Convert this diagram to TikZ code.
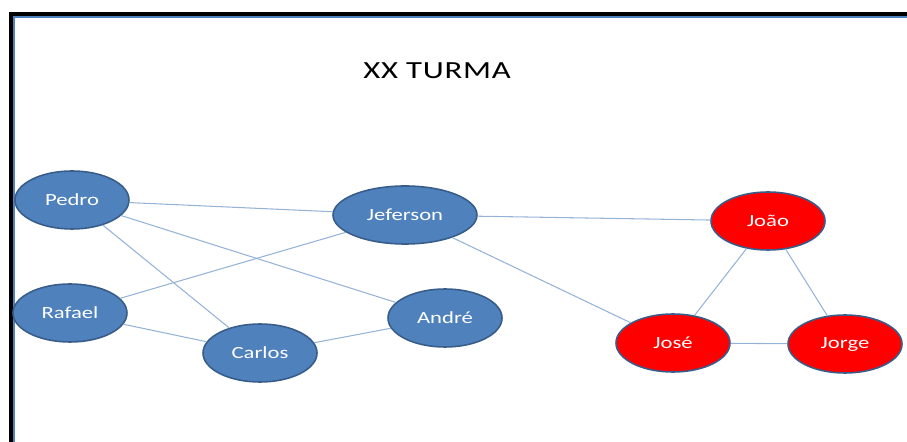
\documentclass[tikz,border=0pt]{standalone}
\usepackage{fontspec}
\setmainfont[FakeStretch=1.33]{Carlito}
\usetikzlibrary{shapes.geometric}
\definecolor{noazul}{HTML}{4F81BD}
\definecolor{bordaazul}{HTML}{385D8A}
\definecolor{linhaazul}{HTML}{95B3D7}
\begin{document}
\begin{tikzpicture}[
    aluno/.style={ellipse, draw=bordaazul, line width=0.9pt, fill=noazul,
        text=white, font=\fontsize{9.7}{11}\selectfont,
        minimum width=2.28cm, minimum height=1.16cm, inner sep=0pt},
    alunovermelho/.style={aluno, fill=red},
    ligacao/.style={linhaazul, line width=0.6pt}
]
    % Moldura
    \useasboundingbox (0,0) rectangle (18.14,8.84);
    \draw[line width=1.8pt] (0.22,0) -- (0.22,8.56) -- (18.2,8.56);
    \draw[noazul, line width=0.6pt] (0.28,0) -- (0.28,8.5) -- (18.2,8.5);

    % Titulo
    \node (titulo) at (8.74,7.42) {\fontsize{14}{16}\selectfont\addfontfeature{LetterSpace=3}XX TURMA};

    % ==================== GRUPO AZUL ====================
    \node[aluno] (pedro) at (1.44,4.84) {Pedro};
    \node[aluno] (rafael) at (1.40,2.58) {Rafael};
    \node[aluno] (carlos) at (5.20,1.78) {Carlos};
    \node[aluno] (andre) at (8.90,2.48) {André};
    \node[aluno, minimum width=2.88cm] (jeferson) at (8.10,4.54) {Jeferson};

    % ==================== GRUPO VERMELHO ====================
    \node[alunovermelho] (joao) at (15.36,4.42) {João};
    \node[alunovermelho] (jose) at (13.46,1.98) {José};
    \node[alunovermelho] (jorge) at (16.90,1.96) {Jorge};

    % Ligacoes
    \draw[ligacao] (pedro) -- (jeferson);
    \draw[ligacao] (pedro) -- (carlos);
    \draw[ligacao] (pedro) -- (andre);
    \draw[ligacao] (rafael) -- (jeferson);
    \draw[ligacao] (rafael) -- (carlos);
    \draw[ligacao] (carlos) -- (andre);
    \draw[ligacao] (jeferson) -- (joao);
    \draw[ligacao] (jeferson) -- (jose);
    \draw[ligacao] (joao) -- (jose);
    \draw[ligacao] (joao) -- (jorge);
    \draw[ligacao] (jose) -- (jorge);
\end{tikzpicture}
\end{document}
